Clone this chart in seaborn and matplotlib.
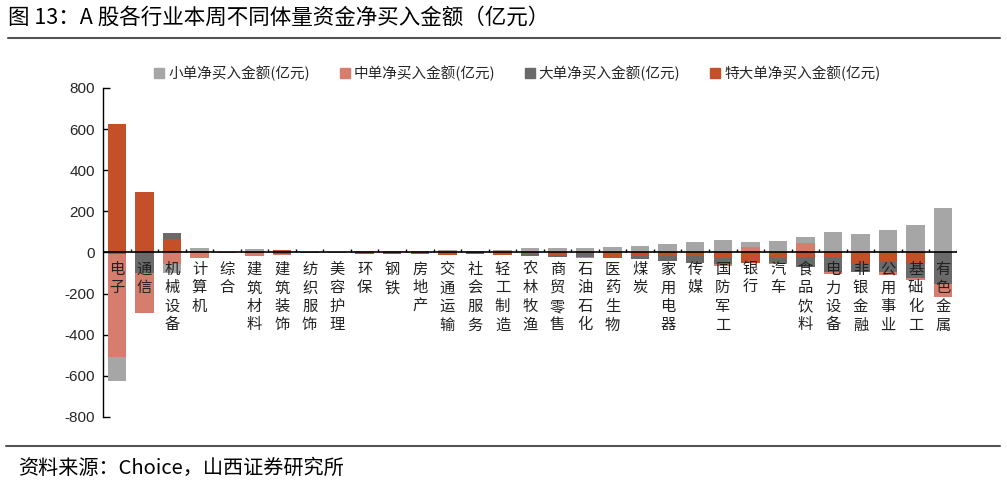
import matplotlib.pyplot as plt
import seaborn as sns
import numpy as np
import pandas as pd
from matplotlib.lines import Line2D

# A股各行业本周不同体量资金净买入金额（亿元）
industries = ["电子", "通信", "机械设备", "计算机", "综合", "建筑材料", "建筑装饰", "纺织服饰",
              "美容护理", "环保", "钢铁", "房地产", "交通运输", "社会服务", "轻工制造", "农林牧渔",
              "商贸零售", "石油石化", "医药生物", "煤炭", "家用电器", "传媒", "国防军工", "银行",
              "汽车", "食品饮料", "电力设备", "非银金融", "公用事业", "基础化工", "有色金属"]

small = [-115, -3, -43, 18, 1, 15, 3, 1, -2, 3, 3, 4, 4, 9, 6, 20,
         22, 24, 29, 32, 37, 45, 63, 21, 57, 29, 100, 92, 109, 133, 215]
medium = [-505, -192, -57, -22, -1, -14, -4, -1, 1, 1, 2, 3, 5, -2, 3, 2,
          0, -2, 0, -2, 3, 4, -8, 29, -5, 44, -11, -3, -13, -11, -60]
large = [-5, -100, 32, 6, 0, 3, -9, -1, 1, 1, -5, 1, 2, -7, 2, -14,
         -10, -22, -3, -13, -24, -33, -29, 0, -25, -53, -73, -37, -57, -73, -155]
xlarge = [627, 295, 65, -3, 0, -4, 10, 1, 0, -5, -1, -8, -11, 0, -11, -5,
          -11, -2, -26, -17, -16, -16, -28, -52, -28, -20, -21, -57, -40, -49, 0]

labels = ["小单净买入金额(亿元)", "中单净买入金额(亿元)", "大单净买入金额(亿元)", "特大单净买入金额(亿元)"]
colors = ["#A6A6A6", "#D67D6E", "#6A6A6A", "#C4502A"]

df = pd.DataFrame({"industry": industries, labels[0]: small, labels[1]: medium,
                   labels[2]: large, labels[3]: xlarge})

# excel style stacking: 特大单 sits next to the axis, then 大单, 中单, 小单
stack = labels[::-1]
pos = df[stack].clip(lower=0).cumsum(axis=1)
neg = df[stack].clip(upper=0).cumsum(axis=1)

sns.set_theme(style="white")
plt.rcParams['font.family'] = ['Noto Sans CJK SC', 'DejaVu Sans']
plt.rcParams['axes.unicode_minus'] = False

fig = plt.figure(figsize=(10.07, 4.86), dpi=100)
ax = fig.add_axes([0.1023, 0.142, 0.848, 0.677])

col_color = dict(zip(labels, colors))
# draw outer cumulative bars first, inner ones cover them
for part in (pos, neg):
    for col in reversed(stack):
        sns.barplot(x=df["industry"], y=part[col], order=industries, color=col_color[col],
                    saturation=1, width=0.67, errorbar=None, linewidth=0, ax=ax)

ax.set_xlim(-0.5, len(industries) - 0.5)
ax.set_ylim(-800, 800)
ax.set_yticks(range(-800, 801, 200))
ax.set_xticks([])
ax.set_xlabel("")
ax.set_ylabel("")
ax.tick_params(axis="y", left=True, direction="in", length=5, width=1, color="black",
               labelsize=11, pad=6)
for t in ax.get_yticklabels():
    t.set_fontfamily("Liberation Sans")

for s in ["top", "right", "bottom"]:
    ax.spines[s].set_visible(False)
ax.spines["left"].set_color("black")
ax.spines["left"].set_linewidth(1)

ax.axhline(0, color="black", lw=1.2, zorder=5)
ax.vlines(np.arange(len(industries)) + 0.5, 0, 18, color="black", lw=1, zorder=5)

for i, name in enumerate(industries):
    ax.annotate("\n".join(name), xy=(i, 0), xytext=(0, -6), textcoords="offset points",
                ha="center", va="top", fontsize=11, linespacing=1.12, color="#222222", zorder=6)

handles = [Line2D([], [], marker="s", ls="", color=c, markersize=7) for c in colors]
fig.legend(handles, labels, loc="center", bbox_to_anchor=(517 / 1007, 1 - 73 / 486), ncol=4,
           frameon=False, fontsize=10.5, handletextpad=0.2, columnspacing=2.0, handlelength=0.8)

fig.text(8 / 1007, 1 - 18 / 486, "图 13：A 股各行业本周不同体量资金净买入金额（亿元）",
         ha="left", va="center", fontsize=15.5, color="black")
fig.add_artist(Line2D([8 / 1007, 1000 / 1007], [1 - 38 / 486] * 2, color="#555555", lw=1.5))
fig.add_artist(Line2D([6 / 1007, 1000 / 1007], [1 - 446 / 486] * 2, color="#555555", lw=1.5))
fig.text(18 / 1007, 1 - 468 / 486, "资料来源：Choice，山西证券研究所",
         ha="left", va="center", fontsize=14.5, color="black")

fig.savefig("out.png", dpi=100)
